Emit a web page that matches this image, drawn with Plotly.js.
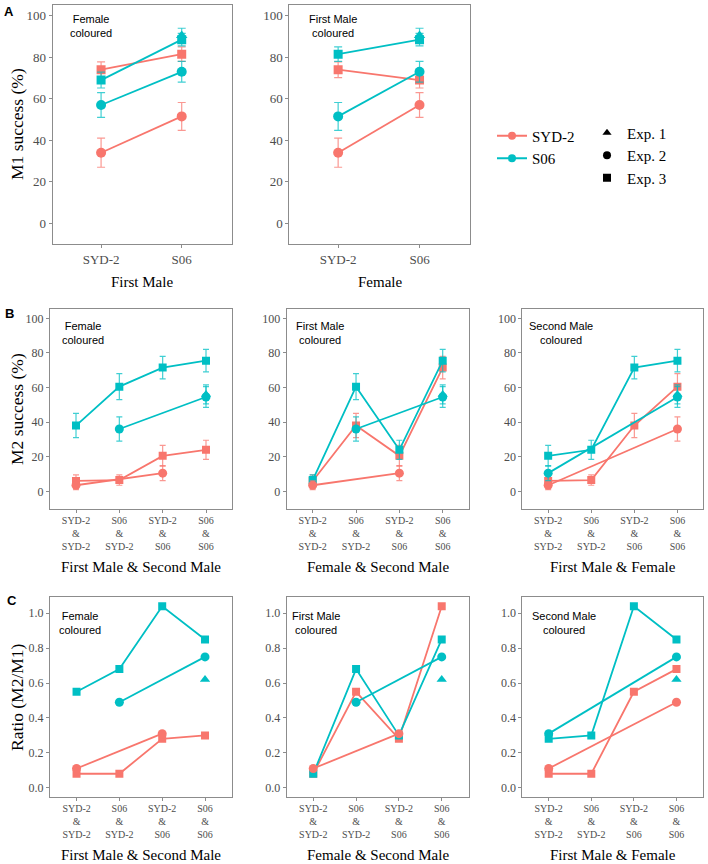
<!DOCTYPE html>
<html>
<head>
<meta charset="utf-8">
<script src="https://cdn.plot.ly/plotly-3.0.1.min.js"></script>
<style>
  body { margin: 0; background: #fff; }
  #chart { width: 708px; height: 864px; }
</style>
</head>
<body>
<div id="chart"></div>
<script>
var strains = ["SYD-2", "S06"];
var colours = ["#F8766D", "#00BFC4"];
var barColours = ["rgba(248,118,109,0.75)", "rgba(0,191,196,0.75)"];
var symbols = { 1: "triangle-up", 2: "circle", 3: "square" };

// panel A: M1 success (%) for each first male x female cross
var aExp = [1, 2, 2, 2, 2, 3, 3, 3, 3];
var aMale1 = ["S06", "SYD-2", "S06", "SYD-2", "S06", "SYD-2", "S06", "SYD-2", "S06"];
var aFemale = ["S06", "SYD-2", "SYD-2", "S06", "S06", "SYD-2", "SYD-2", "S06", "S06"];
var aMean = [90.5, 34, 51.5, 57, 73, 74, 81.5, 69, 88.5];
var aErr = [3.5, 7, 6.7, 6, 5, 3.8, 3.5, 3.8, 3];

// panels B and C: each first male x second male x female cross
var bExp = [1, 2, 2, 2, 2, 3, 3, 3, 3, 3, 3, 3, 3];
var bMale1 = ["S06", "SYD-2", "SYD-2", "S06", "S06", "SYD-2", "S06", "SYD-2", "S06", "SYD-2", "S06", "SYD-2", "S06"];
var bMale2 = ["S06", "SYD-2", "S06", "SYD-2", "S06", "SYD-2", "SYD-2", "S06", "S06", "SYD-2", "SYD-2", "S06", "S06"];
var bFemale = ["S06", "SYD-2", "SYD-2", "S06", "S06", "SYD-2", "SYD-2", "SYD-2", "SYD-2", "S06", "S06", "S06", "S06"];
var bMean = [56, 3.5, 10.5, 36, 54.5, 6, 6.5, 20.5, 24, 38, 60.5, 71.5, 75.5];
var bErr = [5.5, 2.5, 4.3, 7, 6, 3.5, 3, 6, 5.5, 7, 7.5, 6.5, 6.5];
var cRatio = [0.62, 0.11, 0.31, 0.49, 0.75, 0.08, 0.08, 0.28, 0.30, 0.55, 0.68, 1.04, 0.85];

var SERIF = "'Liberation Serif', 'Times New Roman', serif";
var SANS = "'Liberation Sans', Arial, sans-serif";
var W = 708, H = 864;
function px(v) { return v / W; }
function py(v) { return 1 - v / H; }
function si(s) { return strains.indexOf(s); }

var pairTicks = [0, 1, 2, 3].map(function (k) {
  return strains[k % 2] + "<br>&<br>" + strains[Math.floor(k / 2)];
});

var data = [];
var layout = {
  width: W, height: H,
  margin: { l: 0, r: 0, t: 0, b: 0 },
  paper_bgcolor: "white", plot_bgcolor: "white",
  showlegend: true,
  annotations: []
};

function addPanel(n, expArr, xOf, groupOf, yArr, errArr, sz) {
  var ax = n === 1 ? "" : String(n);
  var idx = expArr.map(function (_, i) { return i; });
  [3, 2, 1].forEach(function (e) {
    [0, 1].forEach(function (g) {
      var pts = idx.filter(function (i) { return expArr[i] === e && groupOf(i) === g; });
      if (!pts.length) return;
      pts.sort(function (a, b) { return xOf(a) - xOf(b); });
      var tr = {
        type: "scatter",
        mode: pts.length > 1 ? "lines+markers" : "markers",
        x: pts.map(xOf),
        y: pts.map(function (i) { return yArr[i]; }),
        xaxis: "x" + ax, yaxis: "y" + ax,
        showlegend: false,
        hoverinfo: "y",
        line: { color: colours[g], width: 1.8 },
        marker: {
          symbol: symbols[e],
          color: colours[g],
          size: e === 3 ? sz - 1 : sz
        }
      };
      if (errArr) {
        tr.error_y = {
          type: "data",
          array: pts.map(function (i) { return errArr[i]; }),
          color: barColours[g], thickness: 1.2, width: n <= 2 ? 4 : 3
        };
      }
      data.push(tr);
    });
  });
}

function axes(n, xd, yd, xr, yr, xticks, ytick, xSize, ySize, yFmt) {
  var ax = n === 1 ? "" : String(n);
  var common = {
    showline: true, mirror: true, linecolor: "#8c8c8c", linewidth: 1,
    showgrid: false, zeroline: false,
    ticks: "outside", ticklen: 3, tickcolor: "#8c8c8c", tickwidth: 1,
    fixedrange: true
  };
  layout["xaxis" + ax] = Object.assign({}, common, {
    domain: [px(xd[0]), px(xd[1])], anchor: "y" + ax,
    range: xr, tickmode: "array",
    tickvals: xticks.map(function (_, i) { return i; }), ticktext: xticks,
    ticklabelstandoff: xticks.length > 2 ? -1 : 0,
    tickfont: { family: SERIF, size: xSize, color: "#4d4d4d" }
  });
  layout["yaxis" + ax] = Object.assign({}, common, {
    domain: [py(yd[1]), py(yd[0])], anchor: "x" + ax,
    range: yr, dtick: ytick, tickformat: yFmt,
    tickfont: { family: SERIF, size: ySize, color: "#4d4d4d" }
  });
}

function note(x, y, text, opts) {
  layout.annotations.push(Object.assign({
    xref: "paper", yref: "paper", x: px(x), y: py(y),
    xanchor: "center", yanchor: "middle", showarrow: false, text: text,
    font: { family: SERIF, size: 15, color: "black" }
  }, opts || {}));
}

// Row A
axes(1, [52.7, 231.7], [5, 244], [-0.6, 1.62], [-10, 105.2], strains, 20, 13, 13, "");
axes(2, [289.3, 470], [5, 244], [-0.6, 1.62], [-10, 105.2], strains, 20, 13, 13, "");
addPanel(1, aExp, function (i) { return si(aMale1[i]); }, function (i) { return si(aFemale[i]); }, aMean, aErr, 10);
addPanel(2, aExp, function (i) { return si(aFemale[i]); }, function (i) { return si(aMale1[i]); }, aMean, aErr, 10);

// Rows B and C
var bx = [[50, 232], [286.7, 468.7], [522.3, 703.3]];
var xOfs = [
  function (i) { return si(bMale1[i]) + 2 * si(bMale2[i]); },
  function (i) { return si(bFemale[i]) + 2 * si(bMale2[i]); },
  function (i) { return si(bMale1[i]) + 2 * si(bFemale[i]); }
];
var groupOfs = [
  function (i) { return si(bFemale[i]); },
  function (i) { return si(bMale1[i]); },
  function (i) { return si(bMale2[i]); }
];
for (var p = 0; p < 3; p++) {
  axes(3 + p, bx[p], [309.3, 509.3], [-0.6, 3.6], [-10.4, 105.2], pairTicks, 20, 10, 12, "");
  addPanel(3 + p, bExp, xOfs[p], groupOfs[p], bMean, bErr, 9);
  axes(6 + p, bx[p], [596.7, 797.3], [-0.62, 3.63], [-0.055, 1.095], pairTicks, 0.2, 10, 12, ".1f");
  addPanel(6 + p, bExp, xOfs[p], groupOfs[p], cRatio, null, 9);
}

// legends
strains.forEach(function (s, g) {
  data.push({
    type: "scatter", mode: "lines+markers", name: s, x: [null], y: [null],
    line: { color: colours[g], width: 2 }, marker: { color: colours[g], size: 8 },
    legend: "legend", hoverinfo: "skip"
  });
});
[1, 2, 3].forEach(function (e) {
  data.push({
    type: "scatter", mode: "markers", name: "Exp. " + e, x: [null], y: [null],
    marker: { color: "black", size: 8, symbol: symbols[e] },
    legend: "legend2", hoverinfo: "skip"
  });
});
var legendBase = {
  xanchor: "left", yanchor: "middle", bgcolor: "rgba(0,0,0,0)",
  font: { family: SERIF, size: 15, color: "black" },
  itemwidth: 30, tracegroupgap: 0
};
layout.legend = Object.assign({}, legendBase, { x: px(492), y: py(147) });
layout.legend2 = Object.assign({}, legendBase, { x: px(587), y: py(155.5) });

// panel letters
note(9, 11.5, "<b>A</b>", { font: { family: SANS, size: 13, color: "black" } });
note(9, 313, "<b>B</b>", { font: { family: SANS, size: 13, color: "black" } });
note(12, 600.5, "<b>C</b>", { font: { family: SANS, size: 13, color: "black" } });

// axis titles
note(17.5, 124.5, "M1 success (%)", { textangle: -90, font: { family: SERIF, size: 17.5, color: "black" } });
note(17, 409, "M2 success (%)", { textangle: -90, font: { family: SERIF, size: 17.5, color: "black" } });
note(17, 697, "Ratio (M2/M1)", { textangle: -90, font: { family: SERIF, size: 17.5, color: "black" } });
note(142, 282, "First Male");
note(379.7, 282, "Female");
var pairTitles = ["First Male & Second Male", "Female & Second Male", "First Male & Female"];
for (var q = 0; q < 3; q++) {
  var cx = (bx[q][0] + bx[q][1]) / 2;
  note(cx, 567, pairTitles[q]);
  note(cx, 855, pairTitles[q]);
}

// "coloured" labels inside panels
var small = { font: { family: SANS, size: 11, color: "black" } };
note(91, 26.5, "Female<br>coloured", small);
note(333, 26.5, "First Male<br>coloured", small);
note(83, 332.5, "Female<br>coloured", small);
note(320, 332.5, "First Male<br>coloured", small);
note(561, 332.5, "Second Male<br>coloured", small);
note(80, 623, "Female<br>coloured", small);
note(316, 623, "First Male<br>coloured", small);
note(564, 623, "Second Male<br>coloured", small);

Plotly.newPlot("chart", data, layout, { staticPlot: true, displayModeBar: false });
</script>
</body>
</html>
